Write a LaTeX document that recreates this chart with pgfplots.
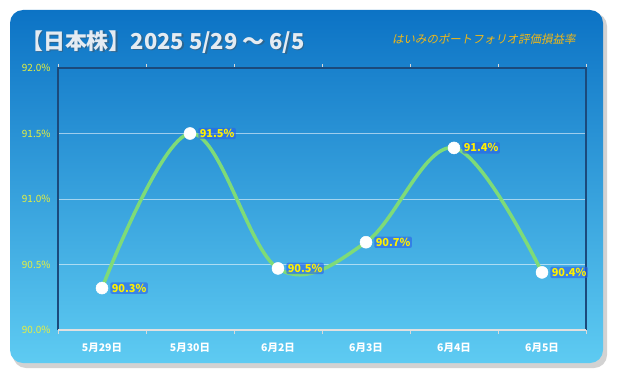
\documentclass[border=0pt]{standalone}
\usepackage{pgfplots}
\pgfplotsset{compat=1.18}
\usepackage{fontspec}
\setmainfont{Noto Sans CJK JP}
\definecolor{bgtop}{HTML}{0C73C5}
\definecolor{bgbot}{HTML}{5ECBF2}
\definecolor{linegreen}{HTML}{7EDB78}
\definecolor{ticky}{HTML}{E8F03C}
\definecolor{labely}{HTML}{FFF000}
\definecolor{labelbg}{HTML}{2A62E8}
\definecolor{frame}{HTML}{1B4A7C}
\definecolor{titlec}{HTML}{E4EBF2}
\definecolor{subc}{HTML}{F2B816}
\begin{document}
\begin{tikzpicture}[x=1bp,y=1bp]
\fill[white] (0,0) rectangle (617,380);
\fill[black!35,opacity=0.5,rounded corners=13bp] (13,12) rectangle (607,367);
\shade[top color=bgtop,bottom color=bgbot,rounded corners=13bp] (10,17) rectangle (603,370);
\node[anchor=west,font=\bfseries\fontsize{22}{26}\selectfont,text=black!70,opacity=0.45,inner sep=0pt] at (22.5,336.5) {【日本株】2025 5/29 ～ 6/5};
\node[anchor=west,font=\bfseries\fontsize{22}{26}\selectfont,text=titlec,inner sep=0pt] at (21,338) {【日本株】2025 5/29 ～ 6/5};
\node[anchor=east,font=\fontsize{11.5}{13}\selectfont,text=subc] at (579,341) {\addfontfeature{FakeSlant=0.2}はいみのポートフォリオ評価損益率};
\begin{axis}[
  at={(58bp,50bp)}, anchor=south west,
  width=528bp, height=262bp, scale only axis,
  xmin=-0.5, xmax=5.5, ymin=90, ymax=92,
  axis line style={draw=none},
  xtick={0,...,5},
  xticklabels={5月29日,5月30日,6月2日,6月3日,6月4日,6月5日},
  minor xtick={-0.5,0.5,...,5.5},
  ytick={90,90.5,...,92},
  major tick length=0pt,
  minor tick length=4bp,
  tick align=outside,
  minor tick style={draw=black!15,line width=0.8bp},
  yticklabel={\pgfmathprintnumber[fixed,fixed zerofill,precision=1]{\tick}\%},
  /pgf/number format/assume math mode=true,
  yticklabel style={font=\fontsize{10}{12}\selectfont,text=ticky,xshift=-4bp},
  xticklabel style={font=\bfseries\fontsize{10.5}{12}\selectfont,text=white,yshift=-9bp},
  ymajorgrids,
  grid style={white,opacity=0.55,line width=0.7bp},
  clip=false,
]
\draw[frame,line width=2bp] (rel axis cs:0,0) -- (rel axis cs:0,1) -- (rel axis cs:1,1) -- (rel axis cs:1,0);
\draw[black!12,line width=1.2bp] (rel axis cs:0,0) -- (rel axis cs:1,0);
\addplot[smooth,tension=0.6,draw=linegreen,line width=3.5bp,
  mark=*,mark size=6bp,mark options={fill=white,draw=white,line width=0.5bp},
  point meta=explicit symbolic,
  nodes near coords,
  every node near coord/.append style={anchor=west,xshift=8bp,
    font=\bfseries\fontsize{11}{13}\selectfont,text=labely,
    fill=labelbg,fill opacity=0.6,text opacity=1,rounded corners=2bp,inner sep=1.5bp}]
coordinates {
(0,90.32) [90.3\%]
(1,91.50) [91.5\%]
(2,90.47) [90.5\%]
(3,90.67) [90.7\%]
(4,91.39) [91.4\%]
(5,90.44) [90.4\%]
};
\end{axis}
\end{tikzpicture}
\end{document}
